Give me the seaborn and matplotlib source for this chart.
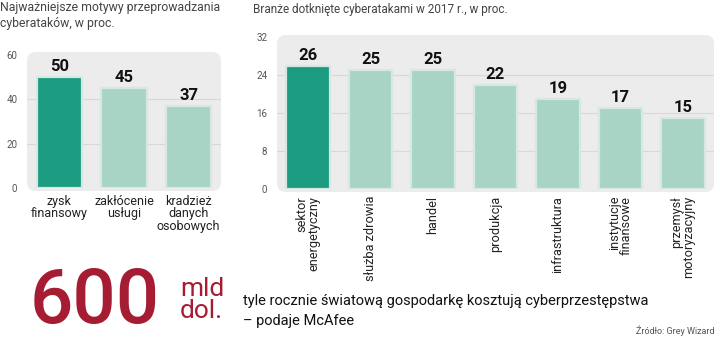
import matplotlib
matplotlib.use("Agg")
import matplotlib.pyplot as plt
from matplotlib.patches import FancyBboxPatch
import seaborn as sns

# ---- data ----
left_title = "Najważniejsze motywy przeprowadzania\ncyberataków, w proc."
left_cats = ["zysk\nfinansowy", "zakłócenie\nusługi", "kradzież\ndanych\nosobowych"]
left_vals = [50, 45, 37]
left_ticks = [0, 20, 40, 60]

right_title = "Branże dotknięte cyberatakami w 2017 r., w proc."
right_cats = ["sektor\nenergetyczny", "służba zdrowia", "handel", "produkcja",
              "infrastruktura", "instytucje\nfinansowe", "przemysł\nmotoryzacyjny"]
right_vals = [26, 25, 25, 22, 19, 17, 15]
right_ticks = [0, 8, 16, 24, 32]

DARK = "#1b9b82"
LIGHT = "#a7d4c5"
BG = "#ececec"
RED = "#a61c33"

sns.set_theme(style="white")
plt.rcParams["font.family"] = ["Roboto", "DejaVu Sans"]

W, H = 720, 339
fig = plt.figure(figsize=(7.2, 3.39), dpi=100)
fig.patch.set_facecolor("white")


def px_axes(x0, y_top, x1, y_bot):
    ax = fig.add_axes([x0 / W, 1 - y_bot / H, (x1 - x0) / W, (y_bot - y_top) / H])
    ax.set_zorder(2)
    return ax


def bg_patch(x0, y_top, x1, y_bot):
    r = 9
    p = FancyBboxPatch((x0 / W, 1 - y_bot / H), (x1 - x0) / W, (y_bot - y_top) / H,
                       boxstyle=f"round,pad=0,rounding_size={r / W}",
                       mutation_aspect=W / H, transform=fig.transFigure,
                       facecolor=BG, edgecolor="none", zorder=-5)
    fig.patches.append(p)


def draw(ax, cats, vals, ticks, width, rotate):
    colors = [DARK] + [LIGHT] * (len(cats) - 1)
    sns.barplot(x=cats, y=vals, hue=cats, palette=colors, legend=False,
                width=width, ax=ax, saturation=1, zorder=3)
    for p in ax.patches:
        p.set_edgecolor("#d6e8e1")
        p.set_linewidth(1.6)
        p.set_joinstyle("round")
    ax.set_facecolor("none")
    ax.patch.set_alpha(0)
    ax.set_xlim(-0.5, len(cats) - 0.5)
    ax.set_ylim(0, ticks[-1])
    for t in ticks[1:-1]:
        ax.axhline(t, color="#d9d9d9", lw=0.8, zorder=1)
    ax.set_yticks(ticks)
    ax.set_yticklabels([str(t) for t in ticks], fontsize=7, color="#555555")
    ax.tick_params(axis="y", length=0, pad=7)
    ax.tick_params(axis="x", length=0, pad=5)
    for s in ax.spines.values():
        s.set_visible(False)
    ax.set_xlabel("")
    ax.set_ylabel("")
    for i, v in enumerate(vals):
        ax.annotate(str(v), (i, v), xytext=(0, 2), textcoords="offset points",
                    ha="center", va="bottom", fontsize=12, fontweight="bold",
                    color="#111111", zorder=5)
    ax.set_xticks(range(len(cats)))
    if rotate:
        ax.set_xticklabels(cats, rotation=90, ha="center", va="top",
                           multialignment="right", fontsize=9.2, color="#222222",
                           linespacing=0.9)
    else:
        ax.set_xticklabels(cats, fontsize=9, color="#222222", linespacing=0.95)


# left chart
bg_patch(27, 52, 221, 191)
axL = px_axes(27, 55, 221, 188)
draw(axL, left_cats, left_vals, left_ticks, 0.7, False)

# right chart
bg_patch(277, 35, 714, 192)
axR = px_axes(277, 37, 714, 189)
draw(axR, right_cats, right_vals, right_ticks, 0.7, True)

# titles
fig.text(0 / W, 1 - 1 / H, left_title, ha="left", va="top", fontsize=8.8,
         color="#444444", linespacing=1.3)
fig.text(253 / W, 1 - 3 / H, right_title, ha="left", va="top", fontsize=8.5,
         color="#444444")

# bottom callout
fig.text(30 / W, 1 - 323 / H, "600", ha="left", va="baseline", fontsize=55,
         color=RED, fontweight="medium")
fig.text(180 / W, 1 - 296 / H, "mld", ha="left", va="baseline", fontsize=19,
         color=RED)
fig.text(180 / W, 1 - 318 / H, "dol.", ha="left", va="baseline", fontsize=19,
         color=RED)
fig.text(243 / W, 1 - 305 / H, "tyle rocznie światową gospodarkę kosztują cyberprzestępstwa",
         ha="left", va="baseline", fontsize=10.5, color="#111111")
fig.text(243 / W, 1 - 325 / H, "– podaje McAfee",
         ha="left", va="baseline", fontsize=10.5, color="#111111")
fig.text(714 / W, 1 - 334 / H, "Źródło: Grey Wizard", ha="right", va="baseline",
         fontsize=6.5, color="#555555")

fig.savefig("out.png", dpi=100, facecolor="white")
